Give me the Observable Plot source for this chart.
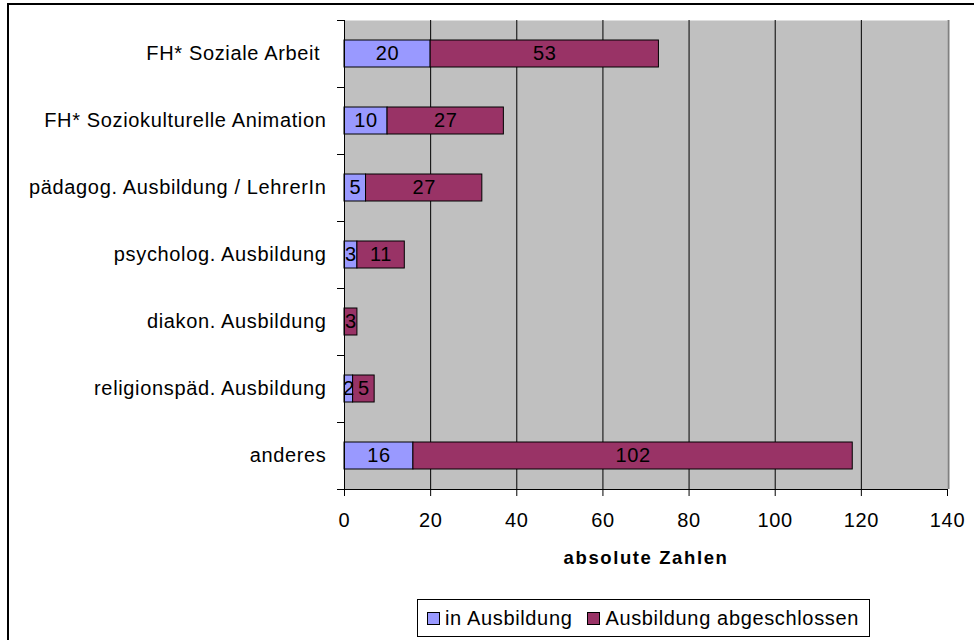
<!DOCTYPE html>
<html>
<head>
<meta charset="utf-8">
<script src="https://cdn.jsdelivr.net/npm/d3@7"></script>
<script src="https://cdn.jsdelivr.net/npm/@observablehq/plot@0.6"></script>
<style>
  html, body { margin: 0; padding: 0; background: #fff; overflow: hidden; }
  #wrap { position: relative; width: 974px; height: 640px; overflow: hidden; font-family: 'Liberation Sans', Arial, sans-serif; }
  #border { position: absolute; left: 7px; top: 3px; width: 1200px; height: 900px; border-left: 2px solid #000; border-top: 2px solid #000; box-sizing: border-box; }
  #chart { position: absolute; left: 0; top: 0; }
  #chart svg text { white-space: pre; }
  #legend { position: absolute; left: 417px; top: 599px; width: 453px; height: 38px; box-sizing: border-box; border: 1px solid #000; background: #fff; display: flex; align-items: center; font-size: 20px; letter-spacing: 0.65px; padding-left: 9px; white-space: nowrap; overflow: hidden; }
  .item { display: flex; align-items: center; margin-right: 15px; flex: none; white-space: nowrap; }
  .sw { width: 11px; height: 11px; border: 1px solid #000; margin-right: 5px; flex: none; }
</style>
</head>
<body>
<div id="wrap">
  <div id="border"></div>
  <div id="chart"></div>
  <div id="legend"></div>
</div>
<script>
const categories = [
  "FH* Soziale Arbeit ",
  "FH* Soziokulturelle Animation",
  "pädagog. Ausbildung / LehrerIn",
  "psycholog. Ausbildung",
  "diakon. Ausbildung",
  "religionspäd. Ausbildung",
  "anderes"
];
const series = ["in Ausbildung", "Ausbildung abgeschlossen"];
const inAusbildung = [20, 10, 5, 3, 0, 2, 16];
const abgeschlossen = [53, 27, 27, 11, 3, 5, 102];
const colors = ["#9999FF", "#993366"];
const xTicks = [0, 20, 40, 60, 80, 100, 120, 140];
const axisTitle = "absolute Zahlen";

const rows = categories.flatMap((c, i) => [
  {cat: c, series: series[0], value: inAusbildung[i]},
  {cat: c, series: series[1], value: abgeschlossen[i]}
]).filter(d => d.value > 0);

const chart = Plot.plot({
  width: 974,
  height: 640,
  marginLeft: 344,
  marginRight: 27,
  marginTop: 20,
  marginBottom: 151,
  style: {fontFamily: "'Liberation Sans', Arial, sans-serif", fontSize: "20px", background: "transparent", overflow: "visible"},
  x: {domain: [0, 140]},
  y: {domain: categories, paddingInner: 0.6, paddingOuter: 0.3},
  color: {domain: series, range: colors},
  marks: [
    Plot.frame({fill: "#c0c0c0", stroke: null}),
    Plot.gridX(xTicks.filter(t => t > 0 && t < 140), {stroke: "#000", strokeOpacity: 1}),
    Plot.ruleX([140], {stroke: "#808080", strokeWidth: 2, dx: 1}),
    Plot.barX(rows, Plot.stackX({y: "cat", x: "value", z: "series", fill: "series", stroke: "#000", strokeWidth: 1})),
    Plot.text(rows, Plot.stackX({y: "cat", x: "value", z: "series", text: d => String(d.value), fill: "#000", fontSize: 20})),
    Plot.frame({anchor: "left", stroke: "#000"}),
    Plot.frame({anchor: "bottom", stroke: "#000"}),
    Plot.axisX(xTicks, {tickSize: 7, tickPadding: 16, label: null, fontSize: 20, stroke: "#000"}),
    Plot.axisY({tickSize: 0, tickPadding: 18, label: null, fontSize: 20}),
    Plot.axisY(categories, {tickSize: 7, tickFormat: () => "", dy: -33.5, label: null, stroke: "#000"}),
    Plot.axisY([categories[categories.length - 1]], {tickSize: 7, tickFormat: () => "", dy: 33.5, label: null, stroke: "#000"}),
    Plot.text([axisTitle], {frameAnchor: "bottom", dy: 74, fontWeight: "bold", fontSize: 18.5, fill: "#000"})
  ]
});

d3.select(chart).selectAll("text").filter(function() { return this.textContent === axisTitle; })
  .style("letter-spacing", "1.6px");
d3.select(chart).selectAll("text").filter(function() { return this.textContent !== axisTitle; })
  .style("letter-spacing", "0.65px");

document.getElementById("chart").appendChild(chart);

const legend = d3.select("#legend");
series.forEach((s, i) => {
  const item = legend.append("div").attr("class", "item");
  item.append("div").attr("class", "sw").style("background", colors[i]);
  item.append("span").text(s);
});
</script>
</body>
</html>
